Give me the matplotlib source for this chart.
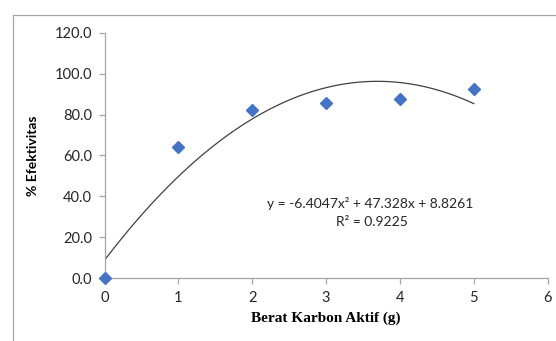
import numpy as np
import matplotlib.pyplot as plt
from matplotlib.lines import Line2D
from matplotlib.ticker import FormatStrFormatter

# data
berat = [0, 1, 2, 3, 4, 5]
efektivitas = [0.0, 64.3, 82.2, 85.5, 87.6, 92.3]
coef = [-6.4047, 47.328, 8.8261]  # trendline y = a x^2 + b x + c
r2 = 0.9225

fig = plt.figure(figsize=(5.56, 3.41), dpi=100)
ax = fig.add_axes([0.188, 0.184, 0.797, 0.720])

xs = np.linspace(0, 5, 200)
ax.plot(xs, np.polyval(coef, xs), color='#404040', lw=0.9)
ax.plot(berat, efektivitas, linestyle='none', marker='D', ms=6,
        color='#4472C4', clip_on=False, zorder=5)

ax.set_xlim(0, 6)
ax.set_ylim(0, 120)
ax.set_xticks(range(0, 7))
ax.set_yticks(range(0, 121, 20))
ax.yaxis.set_major_formatter(FormatStrFormatter('%.1f'))

for s in ['top', 'right']:
    ax.spines[s].set_visible(False)
for s in ['left', 'bottom']:
    ax.spines[s].set_color('#A6A6A6')
    ax.spines[s].set_linewidth(0.9)
ax.tick_params(direction='out', length=4, width=0.9, color='#A6A6A6',
               labelsize=10.5, labelcolor='#262626', pad=5)
for lab in ax.get_xticklabels() + ax.get_yticklabels():
    lab.set_family('Lato')

ax.set_xlabel('Berat Karbon Aktif (g)', family='Liberation Serif',
              fontweight='bold', fontsize=11, labelpad=5)
ax.set_ylabel('% Efektivitas', family='Lato', fontweight='bold',
              fontsize=10, labelpad=11)

eq = 'y = {:.4f}x² + {:.3f}x + {:.4f}'.format(*coef)
ax.text(3.60, 36.6, eq, ha='center', va='center', fontsize=10,
        family='Lato', color='#262626')
ax.text(3.62, 27.5, 'R² = {:.4f}'.format(r2), ha='center', va='center',
        fontsize=10, family='Lato', color='#262626')

# outer chart border (left and top edges visible)
fig.add_artist(Line2D([13/556, 13/556], [0, 1 - 15/341],
                      transform=fig.transFigure, color='#A6A6A6', lw=0.9))
fig.add_artist(Line2D([13/556, 1], [1 - 15/341, 1 - 15/341],
                      transform=fig.transFigure, color='#A6A6A6', lw=0.9))

fig.savefig('out.png', dpi=100)
